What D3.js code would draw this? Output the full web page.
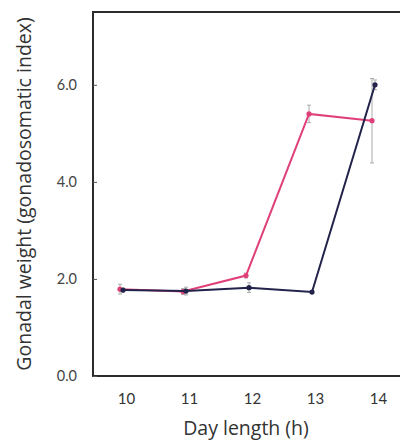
<!DOCTYPE html>
<html>
<head>
<meta charset="utf-8">
<script src="https://cdn.jsdelivr.net/npm/d3@7"></script>
<style>
  body { margin: 0; background: #fff; }
  svg { display: block; font-family: Lato, "Open Sans", sans-serif; }
</style>
</head>
<body>
<div id="chart"></div>
<script>
// data
var days = [10, 11, 12, 13, 14]
  , yTicks = [0, 2, 4, 6]
  , pinkVals = [1.79, 1.74, 2.07, 5.40, 5.26]
  , pinkErr = [0.10, 0.06, 0.05, 0.18, 0.87]
  , navyVals = [1.77, 1.75, 1.82, 1.73, 6.00]
  , navyErr = [0.04, 0.08, 0.10, 0.03, 0.10]

var width = 400
  , height = 443
  , plotLeft = 93
  , plotTop = 12
  , plotBottom = 376
  , plotRight = 412

var svg = d3.select("#chart").append("svg")
  .attr("width", width)
  .attr("height", height)

var x = d3.scaleLinear().domain([10, 14]).range([122, 374])
  , y = d3.scaleLinear().domain([0, 7.5]).range([plotBottom, plotTop])

// frame
svg.append("rect")
  .attr("x", plotLeft).attr("y", plotTop)
  .attr("width", plotRight - plotLeft).attr("height", plotBottom - plotTop)
  .attr("fill", "none")
  .attr("stroke", "#2b2b2b")
  .attr("stroke-width", 2)

// y axis ticks + labels
var yAxis = d3.axisLeft(y).tickValues(yTicks).tickSize(-4).tickPadding(16)
  .tickFormat(d3.format(".1f"))
var gy = svg.append("g").attr("transform", "translate(" + plotLeft + ",0)").call(yAxis)
gy.select(".domain").remove()
gy.selectAll("line").attr("stroke", "#555")
gy.selectAll("text").attr("font-size", 14.5).attr("fill", "#444").attr("font-family", "Lato, sans-serif")

// x axis labels
var xAxis = d3.axisBottom(x).tickValues(days).tickSize(0).tickPadding(17).tickFormat(d3.format("d"))
var gx = svg.append("g").attr("transform", "translate(4," + plotBottom + ")").call(xAxis)
gx.select(".domain").remove()
gx.selectAll("text").attr("font-size", 15).attr("fill", "#333").attr("font-family", "Lato, sans-serif")

// titles
svg.append("text")
  .attr("x", 246).attr("y", 435)
  .attr("text-anchor", "middle")
  .attr("font-family", "'Open Sans', sans-serif")
  .attr("font-size", 19.5).attr("fill", "#333")
  .text("Day length (h)")

svg.append("text")
  .attr("transform", "translate(31,194) rotate(-90)")
  .attr("text-anchor", "middle")
  .attr("font-family", "'Open Sans', sans-serif")
  .attr("font-size", 19.5).attr("fill", "#333")
  .text("Gonadal weight (gonadosomatic index)")

function series(vals, errs, color, shift) {
  var pts = days.map(function (d, i) { return { d: d, v: vals[i], e: errs[i] } })
  var g = svg.append("g")
  // error bars
  g.selectAll("g.err").data(pts).enter().append("g").attr("class", "err")
    .each(function (p) {
      var s = d3.select(this), cx = x(p.d) + shift
      s.append("line").attr("x1", cx).attr("x2", cx)
        .attr("y1", y(p.v + p.e)).attr("y2", y(p.v - p.e))
      s.append("line").attr("x1", cx - 2).attr("x2", cx + 2)
        .attr("y1", y(p.v + p.e)).attr("y2", y(p.v + p.e))
      s.append("line").attr("x1", cx - 2).attr("x2", cx + 2)
        .attr("y1", y(p.v - p.e)).attr("y2", y(p.v - p.e))
    })
    .selectAll("line").attr("stroke", "#aaa").attr("stroke-width", 1)
  g.append("path").datum(pts)
    .attr("fill", "none")
    .attr("stroke", color)
    .attr("stroke-width", 2)
    .attr("d", d3.line().x(function (p) { return x(p.d) + shift }).y(function (p) { return y(p.v) }))
  g.selectAll("circle").data(pts).enter().append("circle")
    .attr("cx", function (p) { return x(p.d) + shift })
    .attr("cy", function (p) { return y(p.v) })
    .attr("r", 2.6)
    .attr("fill", color)
}

series(pinkVals, pinkErr, "#e0407a", -2)
series(navyVals, navyErr, "#22224a", 1)
</script>
</body>
</html>
